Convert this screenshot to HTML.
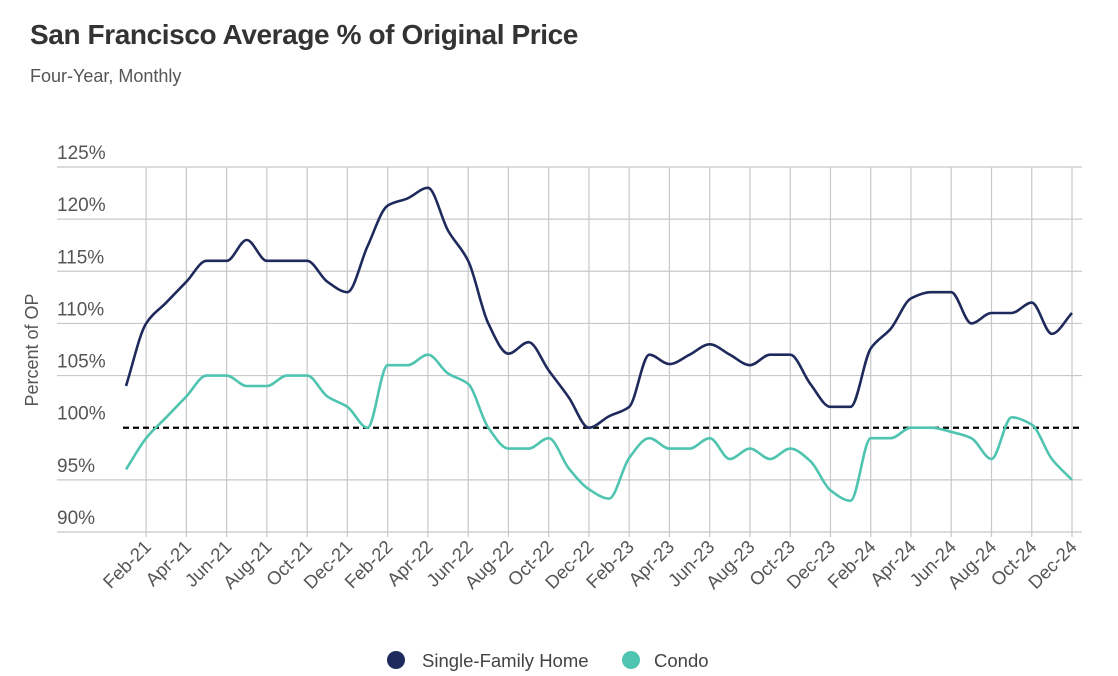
<!DOCTYPE html>
<html><head><meta charset="utf-8"><style>
body{margin:0;background:#fff;width:1118px;height:676px;overflow:hidden;font-family:"Liberation Sans",sans-serif}
#title{position:absolute;left:30px;top:19px;font-size:28px;font-weight:bold;color:#333;letter-spacing:-0.4px}
#sub{position:absolute;left:30px;top:66px;font-size:18px;color:#555}
svg{position:absolute;left:0;top:0}
</style></head><body>
<div id="title">San Francisco Average % of Original Price</div>
<div id="sub">Four-Year, Monthly</div>
<svg id="chart" width="1118" height="676"></svg>
<script>
const months=["Jan-21","Feb-21","Mar-21","Apr-21","May-21","Jun-21","Jul-21","Aug-21","Sep-21","Oct-21","Nov-21","Dec-21","Jan-22","Feb-22","Mar-22","Apr-22","May-22","Jun-22","Jul-22","Aug-22","Sep-22","Oct-22","Nov-22","Dec-22","Jan-23","Feb-23","Mar-23","Apr-23","May-23","Jun-23","Jul-23","Aug-23","Sep-23","Oct-23","Nov-23","Dec-23","Jan-24","Feb-24","Mar-24","Apr-24","May-24","Jun-24","Jul-24","Aug-24","Sep-24","Oct-24","Nov-24","Dec-24"];
const singleFamily=[104,110,112,114,116,116,118,116,116,116,114,113,117.4,121.3,122,123,118.9,116,110,107.1,108.2,105.5,102.9,100,101.1,102,107,106.1,107,108,107,106,107,107,104.2,102,102,107.6,109.5,112.4,113,113,110,111,111,112,109,111];
const condo=[96,99,101,103,105,105,104,104,105,105,103,102,100,106,106,107,105.2,104.2,100,98,98,99,96.1,94.1,93.2,97.1,99,98,98,99,97,98,97,98,96.8,94,93,99,99,100,100,99.6,99,97,101,100.3,97,95];
const yTicks=[90,95,100,105,110,115,120,125];
const yTickLabels=["90%","95%","100%","105%","110%","115%","120%","125%"];
const NS="http://www.w3.org/2000/svg";
const svg=document.getElementById('chart');
const X0=126,DX=(1072-126)/47,Y0=532,YMIN=90,YMAX=125,YT=167;
const xs=i=>X0+i*DX;
const ys=v=>Y0-(v-YMIN)*(Y0-YT)/(YMAX-YMIN);
function mk(t,a,p){const e=document.createElementNS(NS,t);for(const k in a)e.setAttribute(k,a[k]);(p||svg).appendChild(e);return e;}
const grid=mk('g',{});


yTicks.forEach((v,i)=>{
  if(v!==100){const l=mk('line',{x1:57,x2:1082,y1:ys(v),y2:ys(v),stroke:'#c8c8c8','stroke-width':1.2},grid);
  
  }
  const t=mk('text',{x:57,y:ys(v)-8,'font-size':19,fill:'#555'});
  t.textContent=yTickLabels[i];
  
  
});
months.forEach((m,i)=>{
  if(i%2!==1)return;
  const l=mk('line',{x1:xs(i),x2:xs(i),y1:YT,y2:Y0+5,stroke:'#c8c8c8','stroke-width':1.2},grid);
  
  
  const t=mk('text',{x:xs(i)+6,y:Y0+16,'font-size':18.5,fill:'#555','text-anchor':'end',transform:`rotate(-45 ${xs(i)+6} ${Y0+16})`});
  t.textContent=m;
  
  
});
const ref=mk('line',{x1:123,x2:1082,y1:ys(100),y2:ys(100),stroke:'#000','stroke-width':2.2,'stroke-dasharray':'6,4'});


function smooth(vals){
  const p=vals.map((v,i)=>[xs(i),ys(v)]);
  const n=p.length,h=DX,dl=[],m=[];
  for(let i=0;i<n-1;i++)dl.push((p[i+1][1]-p[i][1])/h);
  for(let i=0;i<n;i++){
    if(i===0)m.push(dl[0]);else if(i===n-1)m.push(dl[n-2]);
    else if(dl[i-1]*dl[i]<=0)m.push(0);
    else m.push(2/(1/dl[i-1]+1/dl[i]));
  }
  let d=`M${p[0][0]},${p[0][1]}`;
  for(let i=0;i<n-1;i++){
    d+=` C${p[i][0]+h/3},${p[i][1]+m[i]*h/3} ${p[i+1][0]-h/3},${p[i+1][1]-m[i+1]*h/3} ${p[i+1][0]},${p[i+1][1]}`;
  }
  return d;
}
const l1=mk('path',{d:smooth(singleFamily),fill:'none',stroke:'#1f2a5c','stroke-width':2.6});


const l2=mk('path',{d:smooth(condo),fill:'none',stroke:'#4fc4b0','stroke-width':2.6});


const yt=mk('text',{x:38,y:350,'font-size':18,fill:'#555','text-anchor':'middle',transform:'rotate(-90 38 350)'});
yt.textContent='Percent of OP';


const lg=mk('g',{});


const c1=mk('circle',{cx:396,cy:660,r:9,fill:'#1f2a5c'},lg);


const t1=mk('text',{x:422,y:667,'font-size':18.5,fill:'#444'},lg);
t1.textContent='Single-Family Home';


const c2=mk('circle',{cx:631,cy:660,r:9,fill:'#4fc4b0'},lg);


const t2=mk('text',{x:654,y:667,'font-size':18.5,fill:'#444'},lg);
t2.textContent='Condo';


</script>
</body></html>
